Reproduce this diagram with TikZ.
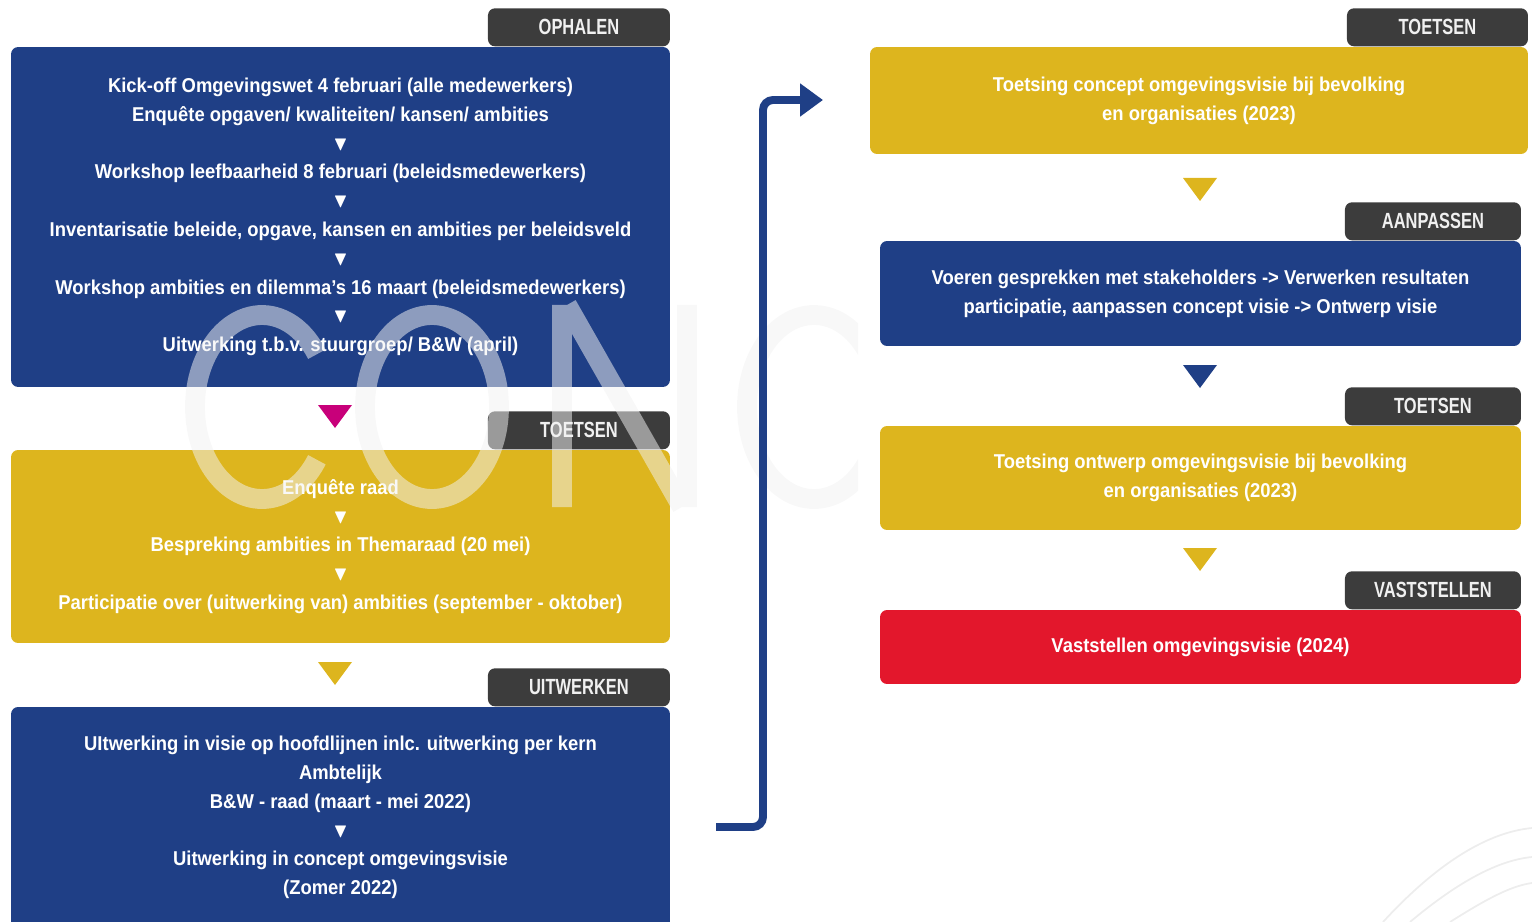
\documentclass[tikz,border=0pt]{standalone}
\usepackage{amssymb}
\usepackage{fontspec}
\setmainfont{Liberation Sans}
\newfontfamily\blokfont{Liberation Sans}[FakeStretch=0.92]
\newfontfamily\tabfont{Liberation Sans}[FakeStretch=0.75]
\usetikzlibrary{positioning,arrows.meta}

\definecolor{blauw}{HTML}{1F3F86}
\definecolor{geel}{HTML}{DDB51E}
\definecolor{rood}{HTML}{E3172C}
\definecolor{tabgrijs}{HTML}{3C3C3C}
\definecolor{magenta}{HTML}{C8007A}
\definecolor{watermerk}{HTML}{F2F2F2}

\newcommand{\pijltje}{$\blacktriangledown$}
\newcommand{\stap}[3]{\fill[#1] ({#2-17},#3) -- ({#2+17},#3) -- (#2,{#3+23}) -- cycle;}

\begin{document}
\begin{tikzpicture}[x=0.02cm,y=-0.02cm,
    blok/.style={rounded corners=4pt,text=white,align=center,
      font=\blokfont\bfseries\fontsize{11.4}{16.4}\selectfont},
    blauwblok/.style={blok,fill=blauw},
    geelblok/.style={blok,fill=geel},
    roodblok/.style={blok,fill=rood},
    tab/.style={fill=tabgrijs,rounded corners=4pt,text=white!94!black,
      minimum height=0.76cm,font=\tabfont\bfseries\fontsize{12.5}{14}\selectfont},
    verbinding/.style={draw=blauw,line width=4.5pt,rounded corners=0.2cm,
      -{Triangle[length=13pt,width=18pt]}}]

  \useasboundingbox (0,0) rectangle (1532,922);

  % linker kolom
  \node[blauwblok,minimum width=13.18cm,minimum height=6.8cm] (ophalen) at (340.5,217)
    {Kick-off Omgevingswet 4 februari (alle medewerkers)\\
     Enquête opgaven/ kwaliteiten/ kansen/ ambities\\
     \pijltje\\
     Workshop leefbaarheid 8 februari (beleidsmedewerkers)\\
     \pijltje\\
     Inventarisatie beleide, opgave, kansen en ambities per beleidsveld\\
     \pijltje\\
     Workshop ambities en dilemma’s 16 maart (beleidsmedewerkers)\\
     \pijltje\\
     Uitwerking t.b.v. stuurgroep/ B\&W (april)};
  \node[geelblok,minimum width=13.18cm,minimum height=3.86cm] (toetsen1) at (340.5,546.5)
    {Enquête raad\\
     \pijltje\\
     Bespreking ambities in Themaraad (20 mei)\\
     \pijltje\\
     Participatie over (uitwerking van) ambities (september - oktober)};
  \node[blauwblok,minimum width=13.18cm,minimum height=4.42cm] (uitwerken) at (340.5,817.5)
    {UItwerking in visie op hoofdlijnen inlc. uitwerking per kern\\
     Ambtelijk\\
     B\&W - raad (maart - mei 2022)\\
     \pijltje\\
     Uitwerking in concept omgevingsvisie\\
     (Zomer 2022)};

  \node[tab,minimum width=3.64cm,above left=0pt and 0pt of ophalen.north east] (tabophalen) {OPHALEN};
  \node[tab,minimum width=3.64cm,above left=0pt and 0pt of toetsen1.north east] (tabtoetsen1) {TOETSEN};
  \node[tab,minimum width=3.64cm,above left=0pt and 0pt of uitwerken.north east] (tabuitwerken) {UITWERKEN};

  \stap{magenta}{335}{405}
  \stap{geel}{335}{662}

  % rechter kolom
  \node[geelblok,minimum width=13.16cm,minimum height=2.14cm] (toetsen2) at (1199,100.5)
    {Toetsing concept omgevingsvisie bij bevolking\\
     en organisaties (2023)};
  \node[blauwblok,minimum width=12.82cm,minimum height=2.1cm] (aanpassen) at (1200.5,293.5)
    {Voeren gesprekken met stakeholders -> Verwerken resultaten\\
     participatie, aanpassen concept visie -> Ontwerp visie};
  \node[geelblok,minimum width=12.82cm,minimum height=2.08cm] (toetsen3) at (1200.5,478)
    {Toetsing ontwerp omgevingsvisie bij bevolking\\
     en organisaties (2023)};
  \node[roodblok,minimum width=12.82cm,minimum height=1.48cm] (vaststellen) at (1200.5,647)
    {Vaststellen omgevingsvisie (2024)};

  \node[tab,minimum width=3.62cm,above left=0pt and 0pt of toetsen2.north east] (tabtoetsen2) {TOETSEN};
  \node[tab,minimum width=3.52cm,above left=0pt and 0pt of aanpassen.north east] (tabaanpassen) {AANPASSEN};
  \node[tab,minimum width=3.52cm,above left=0pt and 0pt of toetsen3.north east] (tabtoetsen3) {TOETSEN};
  \node[tab,minimum width=3.52cm,above left=0pt and 0pt of vaststellen.north east] (tabvaststellen) {VASTSTELLEN};

  \stap{geel}{1200}{178}
  \stap{blauw}{1200}{365}
  \stap{geel}{1200}{548}

  % watermerk
  \begin{scope}[draw=watermerk,draw opacity=0.52,line width=11.3pt]
    \clip (0,0) rectangle (858,922);
    \draw (262,407) ++(35:67 and 92) arc[start angle=35,end angle=325,x radius=67,y radius=92];
    \draw (432,407) ellipse[x radius=67,y radius=92];
    \draw (562,305) -- (562,507) (567,305) -- (682,507) (687,305) -- (687,507);
    \draw (814,407) ++(35:67 and 92) arc[start angle=35,end angle=325,x radius=67,y radius=92];
  \end{scope}

  % lijnen rechtsonder
  \begin{scope}[draw=black!7,line width=1pt]
    \draw (1383,922) .. controls (1440,860) and (1490,832) .. (1532,828);
    \draw (1410,922) .. controls (1460,880) and (1500,860) .. (1532,857);
    \draw (1450,922) .. controls (1485,900) and (1510,886) .. (1532,883);
  \end{scope}

  % verbinding
  \coordinate (start) at (716,827);
  \coordinate (eind) at (823,100);
  \draw[verbinding] (start) -| (763,100) -- (eind);
\end{tikzpicture}
\end{document}
